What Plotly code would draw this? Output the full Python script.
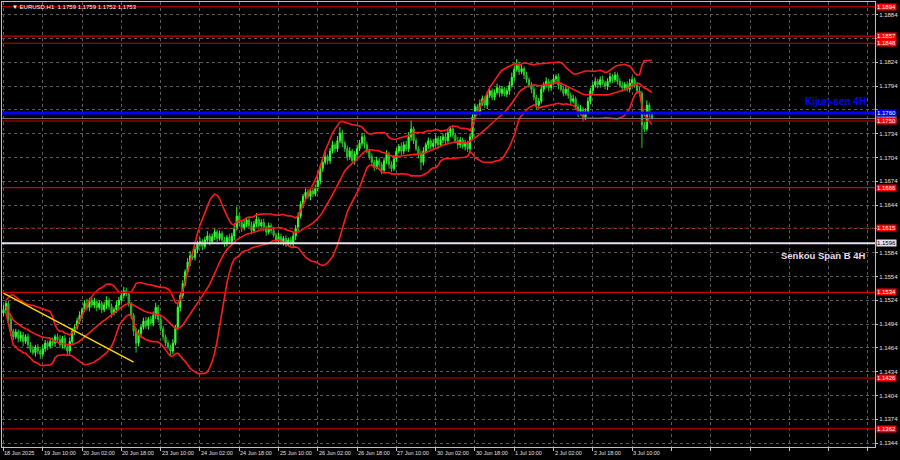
import plotly.graph_objects as go
import pandas as pd

# ---------------- data ----------------
first_open = 1.1508
closes = [
    1.1512, 1.1520, 1.1500, 1.1485, 1.1478, 1.1484, 1.1476, 1.1480, 1.1472, 1.1478,
    1.1468, 1.1462, 1.1458, 1.1465, 1.1460, 1.1456, 1.1463, 1.1470, 1.1466, 1.1472,
    1.1470, 1.1478, 1.1474, 1.1468, 1.1476, 1.1465, 1.1460, 1.1472, 1.1485, 1.1490,
    1.1498, 1.1505, 1.1512, 1.1520, 1.1515, 1.1524, 1.1518, 1.1522, 1.1515, 1.1520,
    1.1512, 1.1518, 1.1524, 1.1516, 1.1508, 1.1512, 1.1518, 1.1524, 1.1530, 1.1536,
    1.1532, 1.1520, 1.1505, 1.1485, 1.1470, 1.1482, 1.1490, 1.1498, 1.1492, 1.1500,
    1.1495, 1.1505, 1.1515, 1.1500, 1.1488, 1.1478, 1.1470, 1.1465, 1.1460, 1.1470,
    1.1490, 1.1515, 1.1530, 1.1545, 1.1560, 1.1572, 1.1580, 1.1578, 1.1588, 1.1595,
    1.1598, 1.1592, 1.1600, 1.1605, 1.1598, 1.1604, 1.1610, 1.1602, 1.1608, 1.1600,
    1.1596, 1.1603, 1.1598, 1.1605, 1.1615, 1.1630, 1.1622, 1.1615, 1.1620, 1.1625,
    1.1618, 1.1612, 1.1620, 1.1626, 1.1618, 1.1622, 1.1615, 1.1610, 1.1618, 1.1612,
    1.1606, 1.1600, 1.1604, 1.1597, 1.1602, 1.1596, 1.1600, 1.1595, 1.1605, 1.1615,
    1.1630, 1.1645, 1.1655, 1.1660, 1.1655, 1.1662, 1.1658, 1.1665, 1.1675, 1.1690,
    1.1698, 1.1705, 1.1700, 1.1712, 1.1720, 1.1715, 1.1725, 1.1735, 1.1722, 1.1715,
    1.1705, 1.1712, 1.1700, 1.1708, 1.1715, 1.1722, 1.1730, 1.1720, 1.1712, 1.1705,
    1.1698, 1.1692, 1.1700, 1.1695, 1.1688, 1.1700, 1.1708, 1.1695, 1.1690, 1.1702,
    1.1712, 1.1718, 1.1712, 1.1720, 1.1715, 1.1730, 1.1740, 1.1725, 1.1715, 1.1708,
    1.1698, 1.1712, 1.1720, 1.1725, 1.1718, 1.1722, 1.1728, 1.1720, 1.1726, 1.1730,
    1.1725, 1.1735, 1.1740, 1.1732, 1.1725, 1.1720, 1.1726, 1.1718, 1.1722, 1.1715,
    1.1730, 1.1755, 1.1768, 1.1762, 1.1772, 1.1778, 1.1770, 1.1782, 1.1788, 1.1780,
    1.1786, 1.1792, 1.1785, 1.1790, 1.1784, 1.1788, 1.1795, 1.1805, 1.1815, 1.1820,
    1.1812, 1.1816, 1.1808, 1.1802, 1.1795, 1.1790, 1.1780, 1.1770, 1.1775, 1.1790,
    1.1795, 1.1800, 1.1792, 1.1798, 1.1803, 1.1806, 1.1795, 1.1790, 1.1785, 1.1790,
    1.1782, 1.1775, 1.1778, 1.1768, 1.1760, 1.1765, 1.1755, 1.1762, 1.1775, 1.1788,
    1.1795, 1.1800, 1.1796, 1.1802, 1.1798, 1.1794, 1.1800, 1.1806, 1.1802, 1.1808,
    1.1800, 1.1795, 1.1792, 1.1796, 1.1790, 1.1798, 1.1802, 1.1795, 1.1788, 1.1785,
    1.1745, 1.1740, 1.1770, 1.1759, 1.1753,
]
upper_wick_pips = [
    6, 4, 3, 5, 3, 4, 3, 5, 4, 3,
    4, 3, 5, 3, 4, 3, 5, 4, 3, 4,
    5, 3, 4, 6, 3, 4, 3, 5, 4, 3,
    4, 5, 3, 4, 6, 3, 4, 5, 3, 4,
    3, 4, 5, 3, 4, 3, 5, 4, 3, 5,
    4, 3, 2, 3, 4, 5, 3, 4, 5, 3,
    4, 5, 6, 3, 3, 4, 3, 4, 3, 5,
    3, 4, 5, 4, 3, 5, 6, 4, 3, 4,
    5, 3, 4, 6, 3, 4, 5, 3, 4, 3,
    4, 3, 5, 4, 6, 12, 4, 3, 5, 4,
    3, 5, 4, 8, 3, 4, 5, 3, 4, 3,
    4, 3, 5, 4, 3, 4, 3, 4, 5, 4,
    5, 4, 3, 5, 4, 3, 4, 5, 4, 5,
    4, 6, 3, 4, 5, 3, 6, 7, 4, 3,
    4, 5, 3, 4, 5, 4, 5, 3, 4, 3,
    4, 3, 5, 4, 3, 4, 5, 3, 4, 5,
    4, 3, 5, 4, 5, 6, 11, 3, 4, 3,
    4, 5, 3, 4, 3, 5, 4, 3, 5, 4,
    5, 4, 3, 4, 3, 5, 4, 3, 4, 3,
    4, 5, 4, 3, 5, 4, 3, 5, 4, 3,
    4, 5, 3, 4, 3, 4, 5, 6, 5, 8,
    4, 5, 3, 4, 3, 4, 5, 3, 4, 5,
    4, 5, 3, 4, 5, 3, 4, 3, 4, 5,
    3, 4, 5, 3, 4, 5, 3, 4, 5, 4,
    4, 5, 3, 4, 5, 3, 4, 5, 3, 4,
    3, 4, 5, 3, 4, 5, 4, 3, 4, 5,
    3, 4, 6, 3, 0,
]
lower_wick_pips = [
    4, 5, 3, 6, 4, 3, 5, 4, 6, 3,
    5, 4, 3, 5, 4, 6, 3, 4, 5, 3,
    4, 5, 3, 4, 5, 3, 6, 4, 3, 5,
    3, 4, 5, 3, 4, 5, 3, 4, 5, 3,
    4, 3, 5, 4, 6, 3, 4, 5, 3, 4,
    3, 4, 5, 6, 12, 4, 5, 3, 4, 5,
    3, 4, 5, 4, 3, 5, 4, 3, 5, 4,
    3, 4, 5, 4, 3, 4, 5, 3, 4, 5,
    4, 5, 3, 4, 5, 3, 4, 5, 3, 4,
    5, 4, 3, 4, 5, 3, 4, 5, 3, 4,
    4, 5, 3, 4, 5, 3, 4, 5, 3, 4,
    3, 4, 5, 3, 4, 5, 4, 3, 4, 5,
    4, 3, 5, 4, 3, 5, 4, 3, 4, 5,
    4, 3, 5, 4, 3, 5, 4, 3, 5, 4,
    5, 4, 3, 5, 4, 3, 4, 5, 3, 4,
    4, 5, 3, 4, 5, 3, 4, 5, 4, 3,
    4, 3, 5, 4, 3, 4, 5, 4, 3, 5,
    10, 4, 3, 5, 4, 3, 4, 5, 3, 4,
    4, 3, 5, 4, 3, 5, 4, 3, 5, 4,
    5, 4, 3, 4, 5, 3, 4, 5, 3, 4,
    4, 3, 5, 4, 3, 4, 5, 3, 4, 3,
    4, 3, 5, 4, 3, 5, 4, 5, 4, 3,
    4, 3, 5, 4, 3, 4, 5, 3, 4, 3,
    4, 5, 3, 4, 5, 3, 6, 4, 3, 4,
    4, 3, 5, 4, 3, 4, 5, 3, 4, 3,
    4, 3, 5, 4, 3, 4, 5, 3, 4, 4,
    29, 4, 3, 5, 1,
]

time_labels = ["18 Jun 2025", "19 Jun 10:00", "20 Jun 02:00", "20 Jun 18:00",
               "23 Jun 10:00", "24 Jun 02:00", "24 Jun 18:00", "25 Jun 10:00",
               "26 Jun 02:00", "26 Jun 18:00", "27 Jun 10:00", "30 Jun 02:00",
               "30 Jun 18:00", "1 Jul 10:00", "2 Jul 02:00", "2 Jul 18:00",
               "3 Jul 10:00"]
bars_per_label = 16

price_ticks = [1.1344, 1.1374, 1.1404, 1.1434, 1.1464, 1.1494, 1.1524, 1.1554,
               1.1584, 1.1614, 1.1644, 1.1674, 1.1704, 1.1734, 1.1764, 1.1794,
               1.1824, 1.1854, 1.1884]
hidden_tick_labels = [1.1614, 1.1764, 1.1854]   # covered by level boxes in the original

red_levels = [1.1894, 1.1857, 1.1848, 1.1750, 1.1666, 1.1534, 1.1426, 1.1362]
dashed_level = 1.1615
kijun_level = 1.1760
senkou_level = 1.1596
bid_level = 1.1753

trend_x = [0, 53]
trend_y = [1.1533, 1.1446]

title_text = "\u25bc EURUSD,H1  1.1759 1.1759 1.1752 1.1753"

# ---------------- build ----------------
n = len(closes)
idx = list(range(n))
opens = [first_open] + closes[:-1]
pip = 0.0001
highs = [max(o, c) + u * pip for o, c, u in zip(opens, closes, upper_wick_pips)]
lows = [min(o, c) - l * pip for o, c, l in zip(opens, closes, lower_wick_pips)]

s = pd.Series(closes)
mid = s.rolling(20, min_periods=2).mean()
sd = s.rolling(20, min_periods=2).std(ddof=0)
bb_up = mid + 2 * sd
bb_dn = mid - 2 * sd

fig = go.Figure()

BB_COL = "#ff1a1a"
for series in (bb_up, mid, bb_dn):
    fig.add_trace(go.Scatter(x=idx, y=series, mode="lines",
                             line=dict(color=BB_COL, width=1.6),
                             hoverinfo="skip", showlegend=False))

fig.add_trace(go.Candlestick(
    x=idx, open=opens, high=highs, low=lows, close=closes,
    increasing=dict(line=dict(color="#33ff33", width=1), fillcolor="#33ff33"),
    decreasing=dict(line=dict(color="#2fc42f", width=1), fillcolor="#1e8c1e"),
    whiskerwidth=0, showlegend=False))

fig.add_trace(go.Scatter(x=trend_x, y=trend_y, mode="lines",
                         line=dict(color="#ffd700", width=1.5),
                         hoverinfo="skip", showlegend=False))

shapes = []
for lv in red_levels:
    shapes.append(dict(type="line", xref="paper", x0=0, x1=1, yref="y", y0=lv, y1=lv,
                       line=dict(color="#d00000", width=1.2)))
shapes.append(dict(type="line", xref="paper", x0=0, x1=1, yref="y", y0=dashed_level, y1=dashed_level,
                   line=dict(color="#b00000", width=1, dash="4px,3px")))
shapes.append(dict(type="line", xref="paper", x0=0, x1=1, yref="y", y0=bid_level, y1=bid_level,
                   line=dict(color="#7a7a7a", width=1)))
shapes.append(dict(type="line", xref="paper", x0=0, x1=1, yref="y", y0=kijun_level, y1=kijun_level,
                   line=dict(color="#0000ff", width=3)))
shapes.append(dict(type="line", xref="paper", x0=0, x1=1, yref="y", y0=senkou_level, y1=senkou_level,
                   line=dict(color="#e8dff0", width=2)))

SMALL_FONT = "Liberation Sans, Arial, sans-serif"
ann = []
# time labels
for i, lab in enumerate(time_labels):
    ann.append(dict(x=i * bars_per_label, xref="x", y=0, yref="paper", yanchor="top",
                    xanchor="left", yshift=-1, xshift=-1, text=lab, showarrow=False,
                    font=dict(size=5.5, color="#e0e0e0", family=SMALL_FONT)))

def price_box(val, bg, fg):
    return dict(x=1, xref="paper", y=val, yref="y", xanchor="left", yanchor="middle",
                xshift=1, text=f"{val:.4f}", showarrow=False, bgcolor=bg, borderpad=0,
                font=dict(size=6, color=fg, family=SMALL_FONT))

ann.append(price_box(bid_level, "#7a7a7a", "#ffffff"))
for lv in red_levels + [dashed_level]:
    ann.append(price_box(lv, "#ff0000", "#ffffff"))
ann.append(price_box(kijun_level, "#0000ff", "#ffffff"))
ann.append(price_box(senkou_level, "#e8dff0", "#000000"))

ann.append(dict(x=0.992, xref="paper", y=1.1774, yref="y", xanchor="right", yanchor="middle",
                text="<b>Kijun-sen 4H</b>", showarrow=False,
                font=dict(size=10, color="#0000ff", family="Liberation Sans Narrow, Liberation Sans")))
ann.append(dict(x=0.992, xref="paper", y=1.1581, yref="y", xanchor="right", yanchor="middle",
                text="<b>Senkou Span B 4H</b>", showarrow=False,
                font=dict(size=9.5, color="#e8dff0", family="Liberation Sans Narrow, Liberation Sans")))
ann.append(dict(x=0, xref="paper", y=1, yref="paper", xanchor="left", yanchor="top",
                xshift=8, yshift=0, text=title_text, showarrow=False,
                font=dict(size=6, color="#ffffff", family=SMALL_FONT)))

grid_ticks = list(range(0, 355, bars_per_label))
tick_text = ["" if v in hidden_tick_labels else f"{v:.4f}" for v in price_ticks]

fig.update_layout(
    width=900, height=460,
    paper_bgcolor="#000000", plot_bgcolor="#000000",
    margin=dict(l=2, r=25, t=2, b=13),
    shapes=shapes, annotations=ann,
    showlegend=False,
    xaxis=dict(range=[-0.6, 354.9], tickvals=grid_ticks, showticklabels=False,
               ticks="outside", ticklen=3, tickcolor="#c0c0c0",
               showgrid=True, gridcolor="#5c5c5c", griddash="3px,3px", gridwidth=1,
               showline=True, linecolor="#c0c0c0", linewidth=1, mirror=True,
               zeroline=False, rangeslider=dict(visible=False), fixedrange=True),
    yaxis=dict(range=[1.1339, 1.1900], side="right", tickvals=price_ticks,
               ticktext=tick_text,
               tickfont=dict(size=6, color="#e0e0e0", family=SMALL_FONT),
               ticks="outside", ticklen=2, tickcolor="#c0c0c0",
               showgrid=True, gridcolor="#5c5c5c", griddash="3px,3px", gridwidth=1,
               showline=True, linecolor="#c0c0c0", linewidth=1, mirror=True,
               zeroline=False, automargin=False, fixedrange=True),
)

fig.write_html(
    "out.html",
    config={"displayModeBar": False},
    post_script="document.body.style.margin='0';document.body.style.background='#000';"
                "document.body.style.overflow='hidden';",
)
